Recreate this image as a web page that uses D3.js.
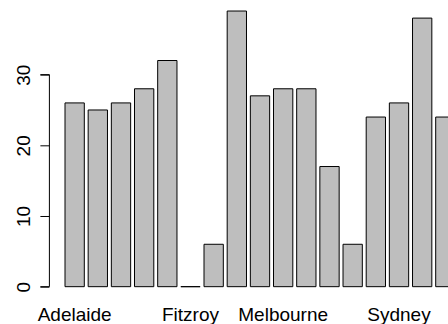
<!DOCTYPE html>
<html>
<head>
<meta charset="utf-8">
<script src="https://cdn.jsdelivr.net/npm/d3@7"></script>
<style>
  html, body { margin: 0; padding: 0; background: #ffffff; }
  svg { display: block; }
  text { font-family: "Liberation Sans", Arial, Helvetica, sans-serif; fill: #000; }
</style>
</head>
<body>
<div id="chart"></div>
<script>
// ---- data ----
const values = [26, 25, 26, 28, 32, 0, 6, 39, 27, 28, 28, 17, 6, 24, 26, 38, 24];
// labels as they appear under the bars (R hides labels that would overlap)
const categories = ["Adelaide", "", "", "", "", "Fitzroy", "", "", "", "Melbourne", "", "", "", "", "Sydney", "", ""];
const yTicks = [0, 10, 20, 30];

// ---- layout ----
const W = 448, H = 324;
const barWidth = 1, barSpace = 0.2;
const n = values.length;
const xMin = barSpace, xMax = n * (barWidth + barSpace);
const xPad = (xMax - xMin) * 0.04;
const yMax = d3.max(values);
const yPad = yMax * 0.04;

const plotLeft = 49.4, plotRight = 470.6, plotTop = 0, plotBottom = 297.7;

const x = d3.scaleLinear().domain([xMin - xPad, xMax + xPad]).range([plotLeft, plotRight]);
const y = d3.scaleLinear().domain([-yPad, yMax + yPad]).range([plotBottom, plotTop]);

const svg = d3.select("#chart").append("svg").attr("width", W).attr("height", H);

// bars
svg.append("g").selectAll("path").data(values).join("path")
  .attr("d", (v, i) => {
    const l = x(barSpace + i * (barWidth + barSpace));
    const r = x((i + 1) * (barWidth + barSpace));
    const t = y(v), b = y(0);
    const p = d3.path();
    p.moveTo(l, b); p.lineTo(l, t); p.lineTo(r, t); p.lineTo(r, b); p.closePath();
    return p.toString();
  })
  .attr("fill", "#bebebe")
  .attr("stroke", "#000")
  .attr("stroke-width", 1);

// y axis
const yAxis = d3.axisLeft(y).tickValues(yTicks).tickSize(9).tickPadding(0).tickFormat(d3.format("d"));
const gy = svg.append("g").attr("transform", `translate(${plotLeft},0)`).call(yAxis);
gy.select(".domain").attr("d", `M-9,${y(0)}H0V${y(30)}H-9`).attr("stroke", "#000").attr("stroke-width", 1).attr("fill", "none");
gy.selectAll(".tick line").attr("stroke", "#000");
gy.selectAll(".tick text")
  .attr("x", null).attr("dy", null)
  .attr("transform", `translate(${30 - plotLeft},0) rotate(-90)`)
  .attr("text-anchor", "middle")
  .style("font-size", "19px")
  .style("font-family", "'Liberation Sans', Arial, sans-serif")
  .attr("fill", "#000");

// x labels
svg.append("g").selectAll("text").data(categories).join("text")
  .attr("x", (c, i) => x(barSpace + i * (barWidth + barSpace) + barWidth / 2))
  .attr("y", 321)
  .attr("text-anchor", "middle")
  .style("font-size", "19px")
  .text(d => d);
</script>
</body>
</html>
